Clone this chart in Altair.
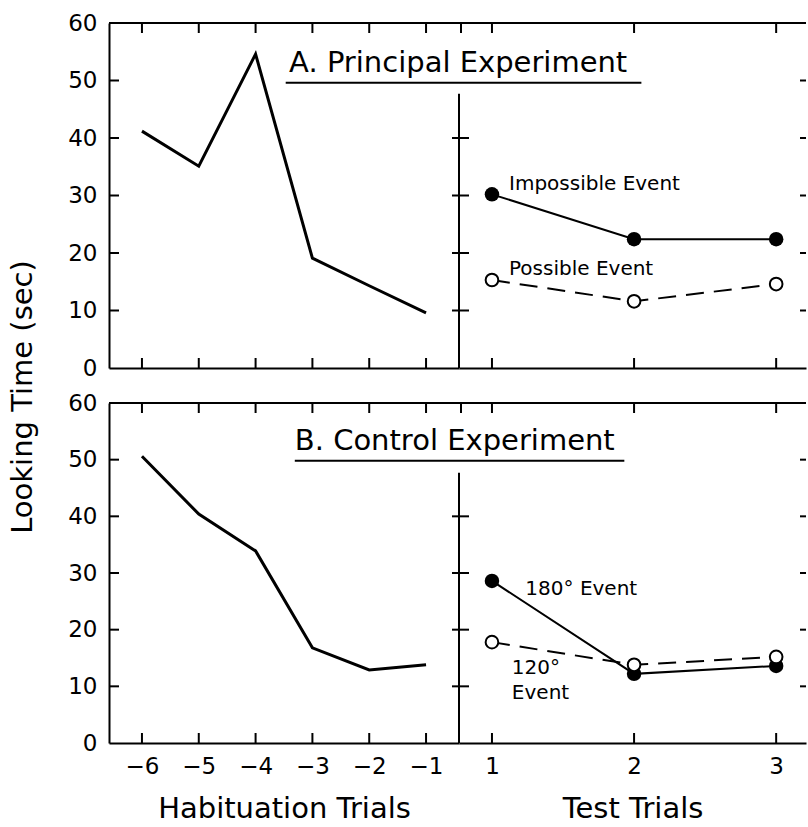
import altair as alt
import pandas as pd

FONT = "DejaVu Sans"

# ---------------- data ----------------
hab_trials = [-6, -5, -4, -3, -2, -1]
test_trials = [1, 2, 3]

a_habituation = [41.2, 35.1, 54.6, 19.1, 14.3, 9.6]
a_impossible = [30.2, 22.4, 22.4]
a_possible = [15.3, 11.6, 14.6]

b_habituation = [50.6, 40.4, 33.9, 16.8, 12.9, 13.8]
b_180 = [28.6, 12.2, 13.6]
b_120 = [17.8, 13.8, 15.2]

y_tick_values = [0, 10, 20, 30, 40, 50, 60]
inner_y_ticks = [10, 20, 30, 40, 50]
separator_ticks = [10, 20, 30, 40]
separator_top = 47.7

a_title = "A. Principal Experiment"
b_title = "B. Control Experiment"
a_labels = ["Impossible Event", "Possible Event"]
a_label_x = [1.12, 1.12]
a_label_y = [32.0, 17.2]
b_labels = ["180° Event", "120°", "Event"]
b_label_x = [1.235, 1.14, 1.14]
b_label_y = [27.1, 13.2, 8.9]

# ---------------- layout ----------------
LEFT_W = 350
RIGHT_W = 347
HAB_DOMAIN = [-6.58, -0.42]
TEST_DOMAIN = [0.768, 3.21]
TICK = 10
BLACK = "black"


def y_enc(show):
    if show:
        axis = alt.Axis(values=y_tick_values, ticks=False, tickSize=0, grid=False,
                        domainColor=BLACK, domainWidth=2, labelFont=FONT,
                        labelFontSize=23, labelColor=BLACK, labelPadding=12,
                        title=None)
    else:
        axis = None
    return alt.Y("value:Q", scale=alt.Scale(domain=[0, 60], nice=False, zero=False), axis=axis)


def x_enc(domain, values, bottom, title):
    if bottom:
        axis = alt.Axis(values=values, ticks=False, tickSize=0, grid=False,
                        domainColor=BLACK, domainWidth=2, labelFont=FONT,
                        labelFontSize=23, labelColor=BLACK, labelPadding=12,
                        title=title, titleFont=FONT, titleFontSize=29,
                        titleFontWeight="normal", titleColor=BLACK, titlePadding=16)
    else:
        axis = alt.Axis(values=values, ticks=False, tickSize=0, grid=False,
                        domainColor=BLACK, domainWidth=2, labels=False, title=None)
    return alt.X("trial:Q", scale=alt.Scale(domain=domain, nice=False, zero=False), axis=axis)


def make_row(hab_vals, solid_vals, open_vals, labels, lx, ly, title_txt,
             title_xy, underline, height, bottom, with_ytitle):
    one = pd.DataFrame({"k": [0]})
    hab_df = pd.DataFrame({"trial": hab_trials, "value": hab_vals})
    hx_df = pd.DataFrame({"trial": hab_trials})
    tx_df = pd.DataFrame({"trial": test_trials})
    inner_df = pd.DataFrame({"value": inner_y_ticks})
    sep_df = pd.DataFrame({"value": separator_ticks})
    solid_df = pd.DataFrame({"trial": test_trials, "value": solid_vals})
    open_df = pd.DataFrame({"trial": test_trials, "value": open_vals})
    lab_df = pd.DataFrame({"trial": lx, "value": ly, "label": labels})
    title_df = pd.DataFrame({"trial": [title_xy[0]], "value": [title_xy[1]], "label": [title_txt]})
    under_df = pd.DataFrame({"trial": [underline[0]], "trial2": [underline[1]], "value": [underline[2]]})
    sepline_df = pd.DataFrame({"value": [0], "value2": [separator_top]})

    xh = x_enc(HAB_DOMAIN, hab_trials, bottom, "Habituation Trials")
    xt = x_enc(TEST_DOMAIN, test_trials, bottom, "Test Trials")
    yl = y_enc(True)
    yr = y_enc(False)

    rule = dict(color=BLACK, strokeWidth=2)

    # ---- left (habituation) panel ----
    left_layers = [
        alt.Chart(hab_df).mark_line(color=BLACK, strokeWidth=3).encode(x=xh, y=yl),
        alt.Chart(hx_df).mark_rule(**rule).encode(x=xh, y=alt.value(0), y2=alt.value(TICK)),
        alt.Chart(hx_df).mark_rule(**rule).encode(x=xh, y=alt.value(height - TICK), y2=alt.value(height)),
        alt.Chart(inner_df).mark_rule(**rule).encode(x=alt.value(0), x2=alt.value(TICK), y=yl),
        alt.Chart(one).mark_rule(**rule).encode(x=alt.value(0), x2=alt.value(LEFT_W), y=alt.value(0)),
        alt.Chart(title_df).mark_text(font=FONT, fontSize=29, align="left", baseline="middle",
                                      color=BLACK).encode(x=xh, y=yl, text="label:N"),
        alt.Chart(under_df).mark_rule(**rule).encode(x=xh, x2="trial2:Q", y=yl),
    ]
    if with_ytitle:
        left_layers.append(
            alt.Chart(one).mark_text(font=FONT, fontSize=29, angle=270, align="center",
                                     baseline="middle", color=BLACK).encode(
                x=alt.value(-86), y=alt.value(374), text=alt.value("Looking Time (sec)")))
    left = alt.layer(*left_layers).properties(width=LEFT_W, height=height)

    # ---- right (test) panel ----
    right_layers = [
        alt.Chart(solid_df).mark_line(color=BLACK, strokeWidth=2).encode(x=xt, y=yr),
        alt.Chart(open_df).mark_line(color=BLACK, strokeWidth=2, strokeDash=[18, 10]).encode(x=xt, y=yr),
        alt.Chart(tx_df).mark_rule(**rule).encode(x=xt, y=alt.value(0), y2=alt.value(TICK)),
        alt.Chart(tx_df).mark_rule(**rule).encode(x=xt, y=alt.value(height - TICK), y2=alt.value(height)),
        alt.Chart(one).mark_rule(**rule).encode(x=alt.value(0), x2=alt.value(RIGHT_W), y=alt.value(0)),
        alt.Chart(one).mark_rule(**rule).encode(x=alt.value(2), y=alt.value(0), y2=alt.value(TICK)),
        alt.Chart(sepline_df).mark_rule(**rule).encode(x=alt.value(0), y=yr, y2="value2:Q"),
        alt.Chart(sep_df).mark_rule(**rule).encode(x=alt.value(-7), x2=alt.value(10), y=yr),
        alt.Chart(inner_df).mark_rule(**rule).encode(x=alt.value(RIGHT_W - 6), x2=alt.value(RIGHT_W), y=yr),
        alt.Chart(solid_df).mark_point(shape="circle", filled=True, color=BLACK, size=210,
                                       opacity=1).encode(x=xt, y=yr),
        alt.Chart(open_df).mark_point(shape="circle", fill="white", fillOpacity=1, stroke=BLACK,
                                      strokeWidth=2, size=160, opacity=1).encode(x=xt, y=yr),
        alt.Chart(lab_df).mark_text(font=FONT, fontSize=20, align="left", baseline="middle",
                                    color=BLACK).encode(x=xt, y=yr, text="label:N"),
    ]
    right = alt.layer(*right_layers).properties(width=RIGHT_W, height=height)

    return left, right


a_left, a_right = make_row(a_habituation, a_impossible, a_possible, a_labels, a_label_x, a_label_y,
                           a_title, (-3.41, 53.0), (-3.47, 2.79, 49.6), 345, False, True)
b_left, b_right = make_row(b_habituation, b_180, b_120, b_labels, b_label_x, b_label_y,
                           b_title, (-3.31, 53.3), (-3.31, 2.49, 49.8), 340, True, False)

chart = alt.concat(a_left, a_right, b_left, b_right, columns=2,
                   spacing={"row": 35, "column": 0}, bounds="flush").properties(
    padding={"left": 9, "top": 12, "right": 0, "bottom": 0},
    background="white",
).configure_view(stroke=None)

chart.save("out.html", embed_options={"renderer": "svg", "actions": False})
